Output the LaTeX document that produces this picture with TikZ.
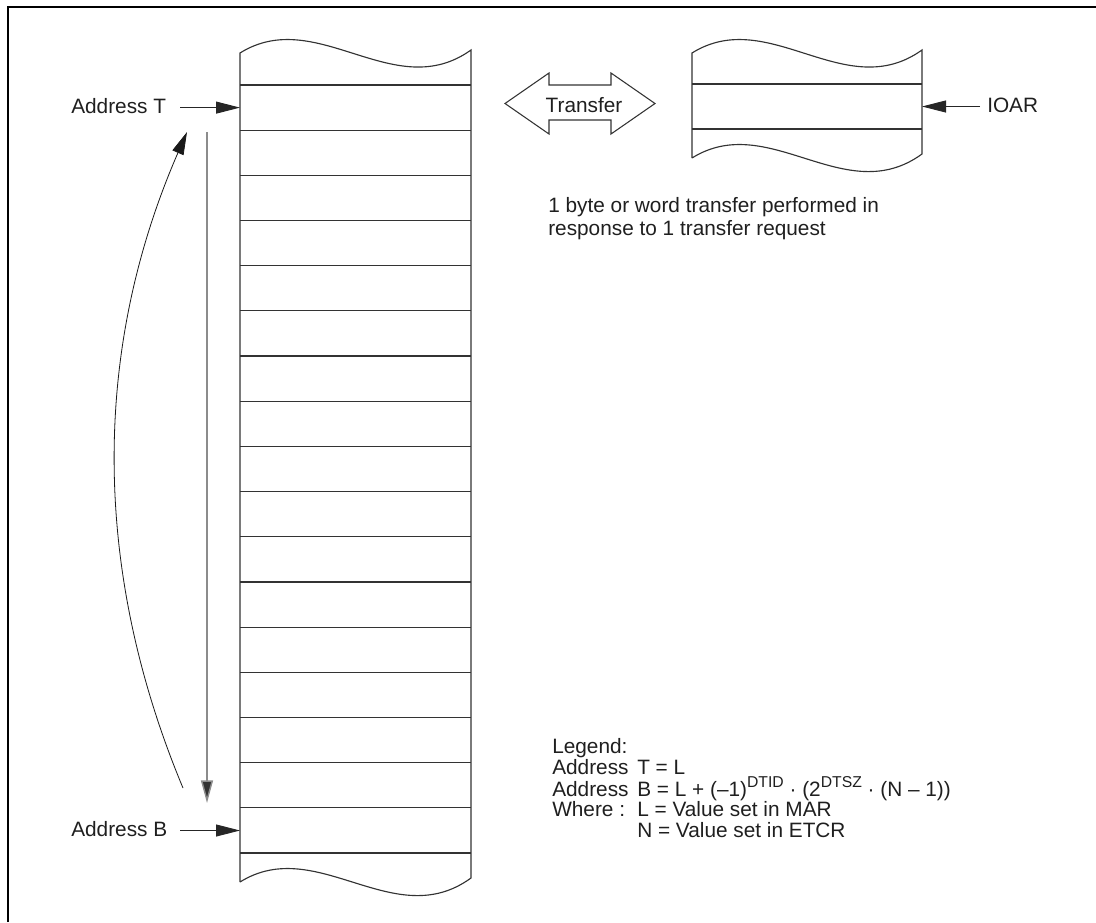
\documentclass[tikz,border=0pt]{standalone}
\usepackage{fontspec}
\setmainfont{Liberation Sans}
\usetikzlibrary{arrows.meta}
\newcommand\supx[1]{\raisebox{6.2pt}{\fontsize{11.8}{11.8}\selectfont #1}}
\begin{document}
\begin{tikzpicture}[x=0.75pt,y=-0.75pt,line join=miter,
  txt/.style={font=\fontsize{15.6}{18}\selectfont,text=black!88,inner sep=0pt,anchor=base west},
  ln/.style={draw=black!80,line width=0.85pt},
  arr/.style={draw=black!85,line width=0.7pt,-{Triangle[length=18pt,width=9pt]}},
  garr/.style={draw=black!45,line width=1.1pt,-{Triangle[length=17pt,width=9pt,fill=black!80]}},
  carr/.style={draw=black!90,line width=0.6pt,-{Triangle[length=17pt,width=9pt]}},
  frame/.style={draw=black,line width=2.2pt}]
\useasboundingbox (0,0) rectangle (1096,922);
% frame (left and top)
\draw[frame] (8,922) -- (8,7) -- (1096,7);

% memory column
\draw[ln] (240,882) -- (240,53) .. controls (317,5) and (394,105) .. (471,50)
  -- (471,878) .. controls (394,934) and (317,834) .. (240,882);
\foreach \i in {0,...,17}{
  \pgfmathsetmacro\yy{85+\i*45.176}
  \draw[ln] (240,\yy) -- (471,\yy);
}
\coordinate (rowT) at (240,107.6);
\coordinate (rowB) at (240,830.5);

% IOAR box
\draw[ln] (692,158) -- (692,53) .. controls (769,5) and (845,105) .. (922,50)
  -- (922,154) .. controls (845,210) and (769,110) .. (692,158);
\draw[ln] (692,84) -- (922,84);
\draw[ln] (692,129) -- (922,129);
\coordinate (ioarrow) at (922,106.5);

% transfer double arrow
\draw[ln,line width=0.8pt] (505,103.5) -- (549,73) -- (549,85) -- (611,85) -- (611,73)
  -- (655,103.5) -- (611,134) -- (611,120) -- (549,120) -- (549,134) -- cycle;
\node[txt,anchor=base] (transfer) at (584,112) {Transfer};

% labels and arrows
\node[txt] (labT) at (71,113) {Address T};
\node[txt] (labB) at (71,836) {Address B};
\coordinate (tstart) at (180,107.6);
\coordinate (bstart) at (180,830.5);
\draw[arr] (tstart) -- (rowT);
\draw[arr] (bstart) -- (rowB);

\node[txt] (ioar) at (987,112) {IOAR};
\coordinate (istart) at (980,106.5);
\draw[arr] (istart) -- (ioarrow);

% vertical and curved arrows
\coordinate (vtop) at (207,132);
\coordinate (vbot) at (207,803);
\draw[garr] (vtop) -- (vbot);
\coordinate (cbot) at (183,788);
\coordinate (ctop) at (187,132);
\draw[carr] (cbot) .. controls (92,570) and (92,350) .. (ctop);

% note
\node[txt] (note1) at (548,212) {1 byte or word transfer performed in};
\node[txt] (note2) at (548,235) {response to 1 transfer request};

% legend
\node[txt] (leg) at (552,753) {Legend:};
\node[txt] (la1) at (552,774) {Address};
\node[txt] (lb1) at (637,774) {T = L};
\node[txt] (la2) at (552,796) {Address};
\node[txt] (lb2) at (637,796) {B = L + (–1)\supx{DTID} · (2\supx{DTSZ} · (N – 1))};
\node[txt] (la3) at (552,816) {Where :};
\node[txt] (lb3) at (637,816) {L = Value set in MAR};
\node[txt] (lb4) at (637,837) {N = Value set in ETCR};
\end{tikzpicture}
\end{document}
